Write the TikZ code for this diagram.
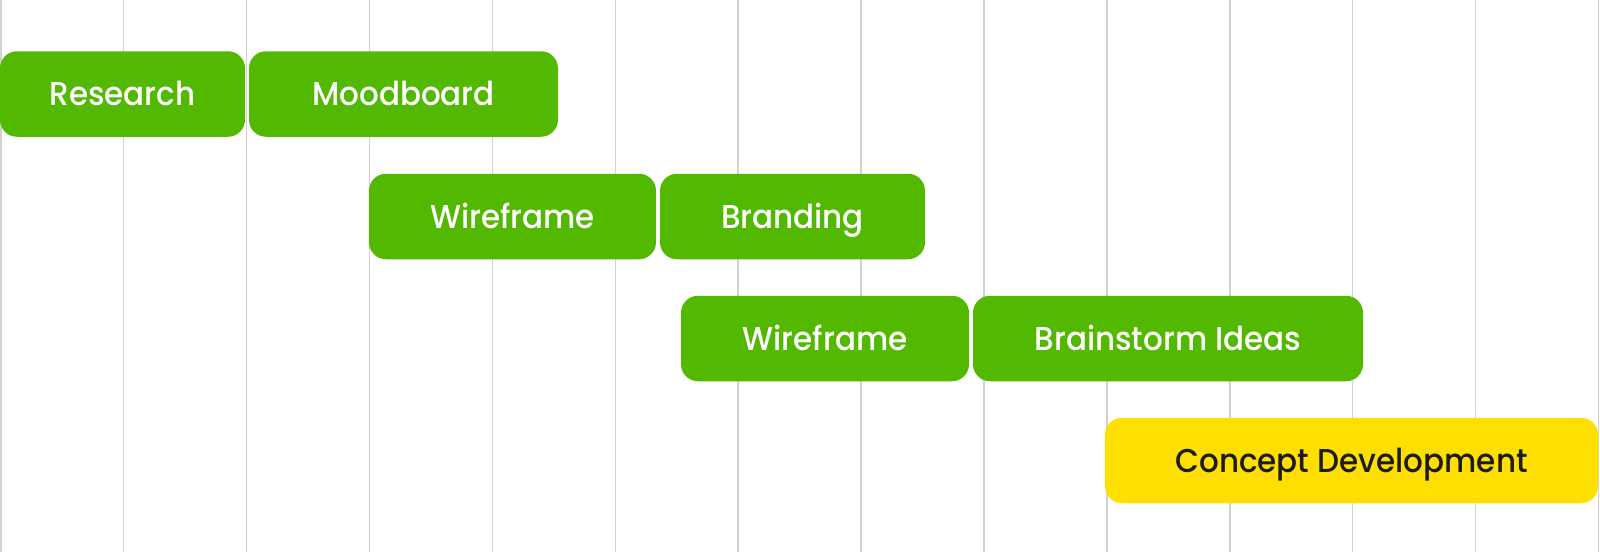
\documentclass[tikz,border=0pt]{standalone}
\usepackage{fontspec}
\setmainfont{Poppins}[UprightFont={* Medium}, FakeStretch=0.94]
\definecolor{barGreen}{HTML}{52B800}
\definecolor{barYellow}{HTML}{FFDF00}
\definecolor{gridGray}{HTML}{D2D2D2}
\definecolor{darkText}{HTML}{1C1C1C}
\tikzset{
  gridline/.style={draw=gridGray, line width=1.5pt},
  taskbar/.style={fill=barGreen, rounded corners=17pt, minimum height=85.5pt, inner sep=0pt,
    text height=23pt, text depth=0pt, text=white, font=\fontsize{33}{36}\selectfont},
  keybar/.style={taskbar, fill=barYellow, text=darkText},
}
\begin{document}
\begin{tikzpicture}[x=1pt,y=-1pt]
\useasboundingbox (0,0) rectangle (1600,552);
\fill[white] (0,0) rectangle (1600,552);
\foreach \k in {0,...,13} {
  \coordinate (gt\k) at ({min(122.9*\k+0.75,1598.5)},0);
  \coordinate (gb\k) at ({min(122.9*\k+0.75,1598.5)},552);
  \draw[gridline] (gt\k) -- (gb\k);
}
\node[taskbar, minimum width=245pt] (research) at (122.5,94) {Research};
\node[taskbar, minimum width=309pt] (moodboard) at (403.5,94) {Moodboard};
\node[taskbar, minimum width=287pt] (wireframeA) at (512.5,216.5) {Wireframe};
\node[taskbar, minimum width=265pt] (branding) at (792.5,216.5) {Branding};
\node[taskbar, minimum width=288pt] (wireframeB) at (825,338.5) {Wireframe};
\node[taskbar, minimum width=390pt] (brainstorm) at (1168,338.5) {Brainstorm Ideas};
\node[keybar, minimum width=493pt] (concept) at (1351.5,460.5) {Concept Development};
\end{tikzpicture}
\end{document}
